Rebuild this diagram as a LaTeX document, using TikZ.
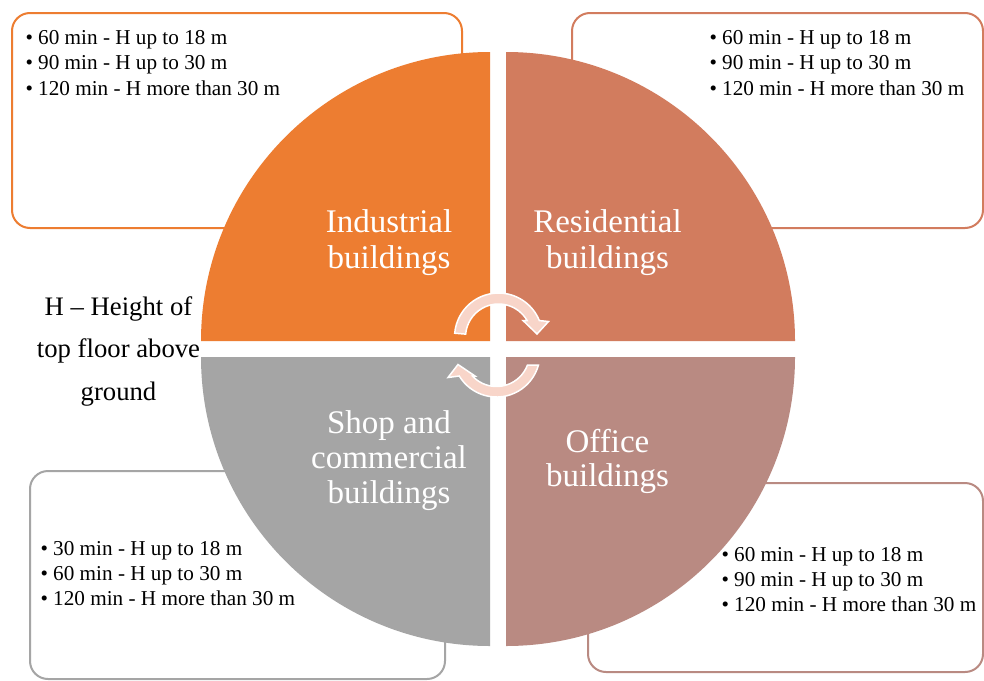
\documentclass[tikz,border=0pt]{standalone}
\usepackage{fontspec}
\setmainfont{Liberation Serif}
\definecolor{cInd}{HTML}{ED7D31}
\definecolor{cRes}{HTML}{D27C5E}
\definecolor{cOff}{HTML}{B98A82}
\definecolor{cShop}{HTML}{A5A5A5}
\definecolor{cArr}{HTML}{F8D5C9}
\begin{document}
\begin{tikzpicture}[x=1pt,y=-1pt,
  infobox/.style={line width=2pt, rounded corners=18pt, fill=white},
  bul/.style={anchor=base west, inner sep=0pt, font=\fontsize{21.2}{25}\selectfont},
  lab/.style={anchor=base, inner sep=0pt, text=white, font=\fontsize{33}{36}\selectfont},
  leg/.style={anchor=base, inner sep=0pt, font=\fontsize{26.7}{32}\selectfont},
  cyc/.style={fill=cArr, draw=white, line width=1.5pt, line join=miter}]
\useasboundingbox (0,0) rectangle (984,680);
\fill[white] (0,0) rectangle (984,680);
% text boxes
\draw[infobox, draw=cInd]  (12,13) rectangle (462,228);
\draw[infobox, draw=cRes]  (572,13) rectangle (983,228);
\draw[infobox, draw=cShop] (30,471) rectangle (445,679);
\draw[infobox, draw=cOff]  (588,483) rectangle (983,672);
% quadrants
\fill[cInd]  (490,341) -- (201,341) arc[start angle=180, end angle=270, radius=289] -- cycle;
\fill[cRes]  (506,341) -- (506,52) arc[start angle=270, end angle=360, radius=289] -- cycle;
\fill[cOff]  (506,357) -- (795,357) arc[start angle=0, end angle=90, radius=289] -- cycle;
\fill[cShop] (490,357) -- (490,646) arc[start angle=90, end angle=180, radius=289] -- cycle;
% circular arrows
\draw[cyc] (454.7,333.2) arc[start angle=185, end angle=338, radius=44]
  -- (548.5,321.5) -- (537,334) -- (523,320.5) -- (527.1,320.5)
  arc[start angle=330, end angle=185, radius=33] -- cycle;
\draw[cyc] (538.45,365) arc[start angle=15.3, end angle=148.9, radius=43.5]
  -- (448,377.5) -- (458,364.5) -- (475,376) -- (472.4,376)
  arc[start angle=137, end angle=20.4, radius=33] -- cycle;
% quadrant labels
\node[lab] (ind1) at (389,232) {Industrial};
\node[lab] (ind2) at (389,268) {buildings};
\node[lab] (res1) at (607.5,232) {Residential};
\node[lab] (res2) at (607.5,268) {buildings};
\node[lab] (shp1) at (389,433) {Shop and};
\node[lab] (shp2) at (389,468) {commercial};
\node[lab] (shp3) at (389,503) {buildings};
\node[lab] (off1) at (607.5,452) {Office};
\node[lab] (off2) at (607.5,486.5) {buildings};
% bullet lists
\node[bul] (tl1) at (25.3,44) {• 60 min - H up to 18 m};
\node[bul] (tl2) at (25.3,69.5) {• 90 min - H up to 30 m};
\node[bul] (tl3) at (25.3,95) {• 120 min - H more than 30 m};
\node[bul] (tr1) at (709.3,44) {• 60 min - H up to 18 m};
\node[bul] (tr2) at (709.3,69.5) {• 90 min - H up to 30 m};
\node[bul] (tr3) at (709.3,95) {• 120 min - H more than 30 m};
\node[bul] (bl1) at (40.3,555) {• 30 min - H up to 18 m};
\node[bul] (bl2) at (40.3,580) {• 60 min - H up to 30 m};
\node[bul] (bl3) at (40.3,605.5) {• 120 min - H more than 30 m};
\node[bul] (br1) at (721.3,561) {• 60 min - H up to 18 m};
\node[bul] (br2) at (721.3,586) {• 90 min - H up to 30 m};
\node[bul] (br3) at (721.3,611) {• 120 min - H more than 30 m};
% legend
\node[leg] (h1) at (118.5,315) {H – Height of};
\node[leg] (h2) at (118.5,357) {top floor above};
\node[leg] (h3) at (118.5,400) {ground};
\end{tikzpicture}
\end{document}
